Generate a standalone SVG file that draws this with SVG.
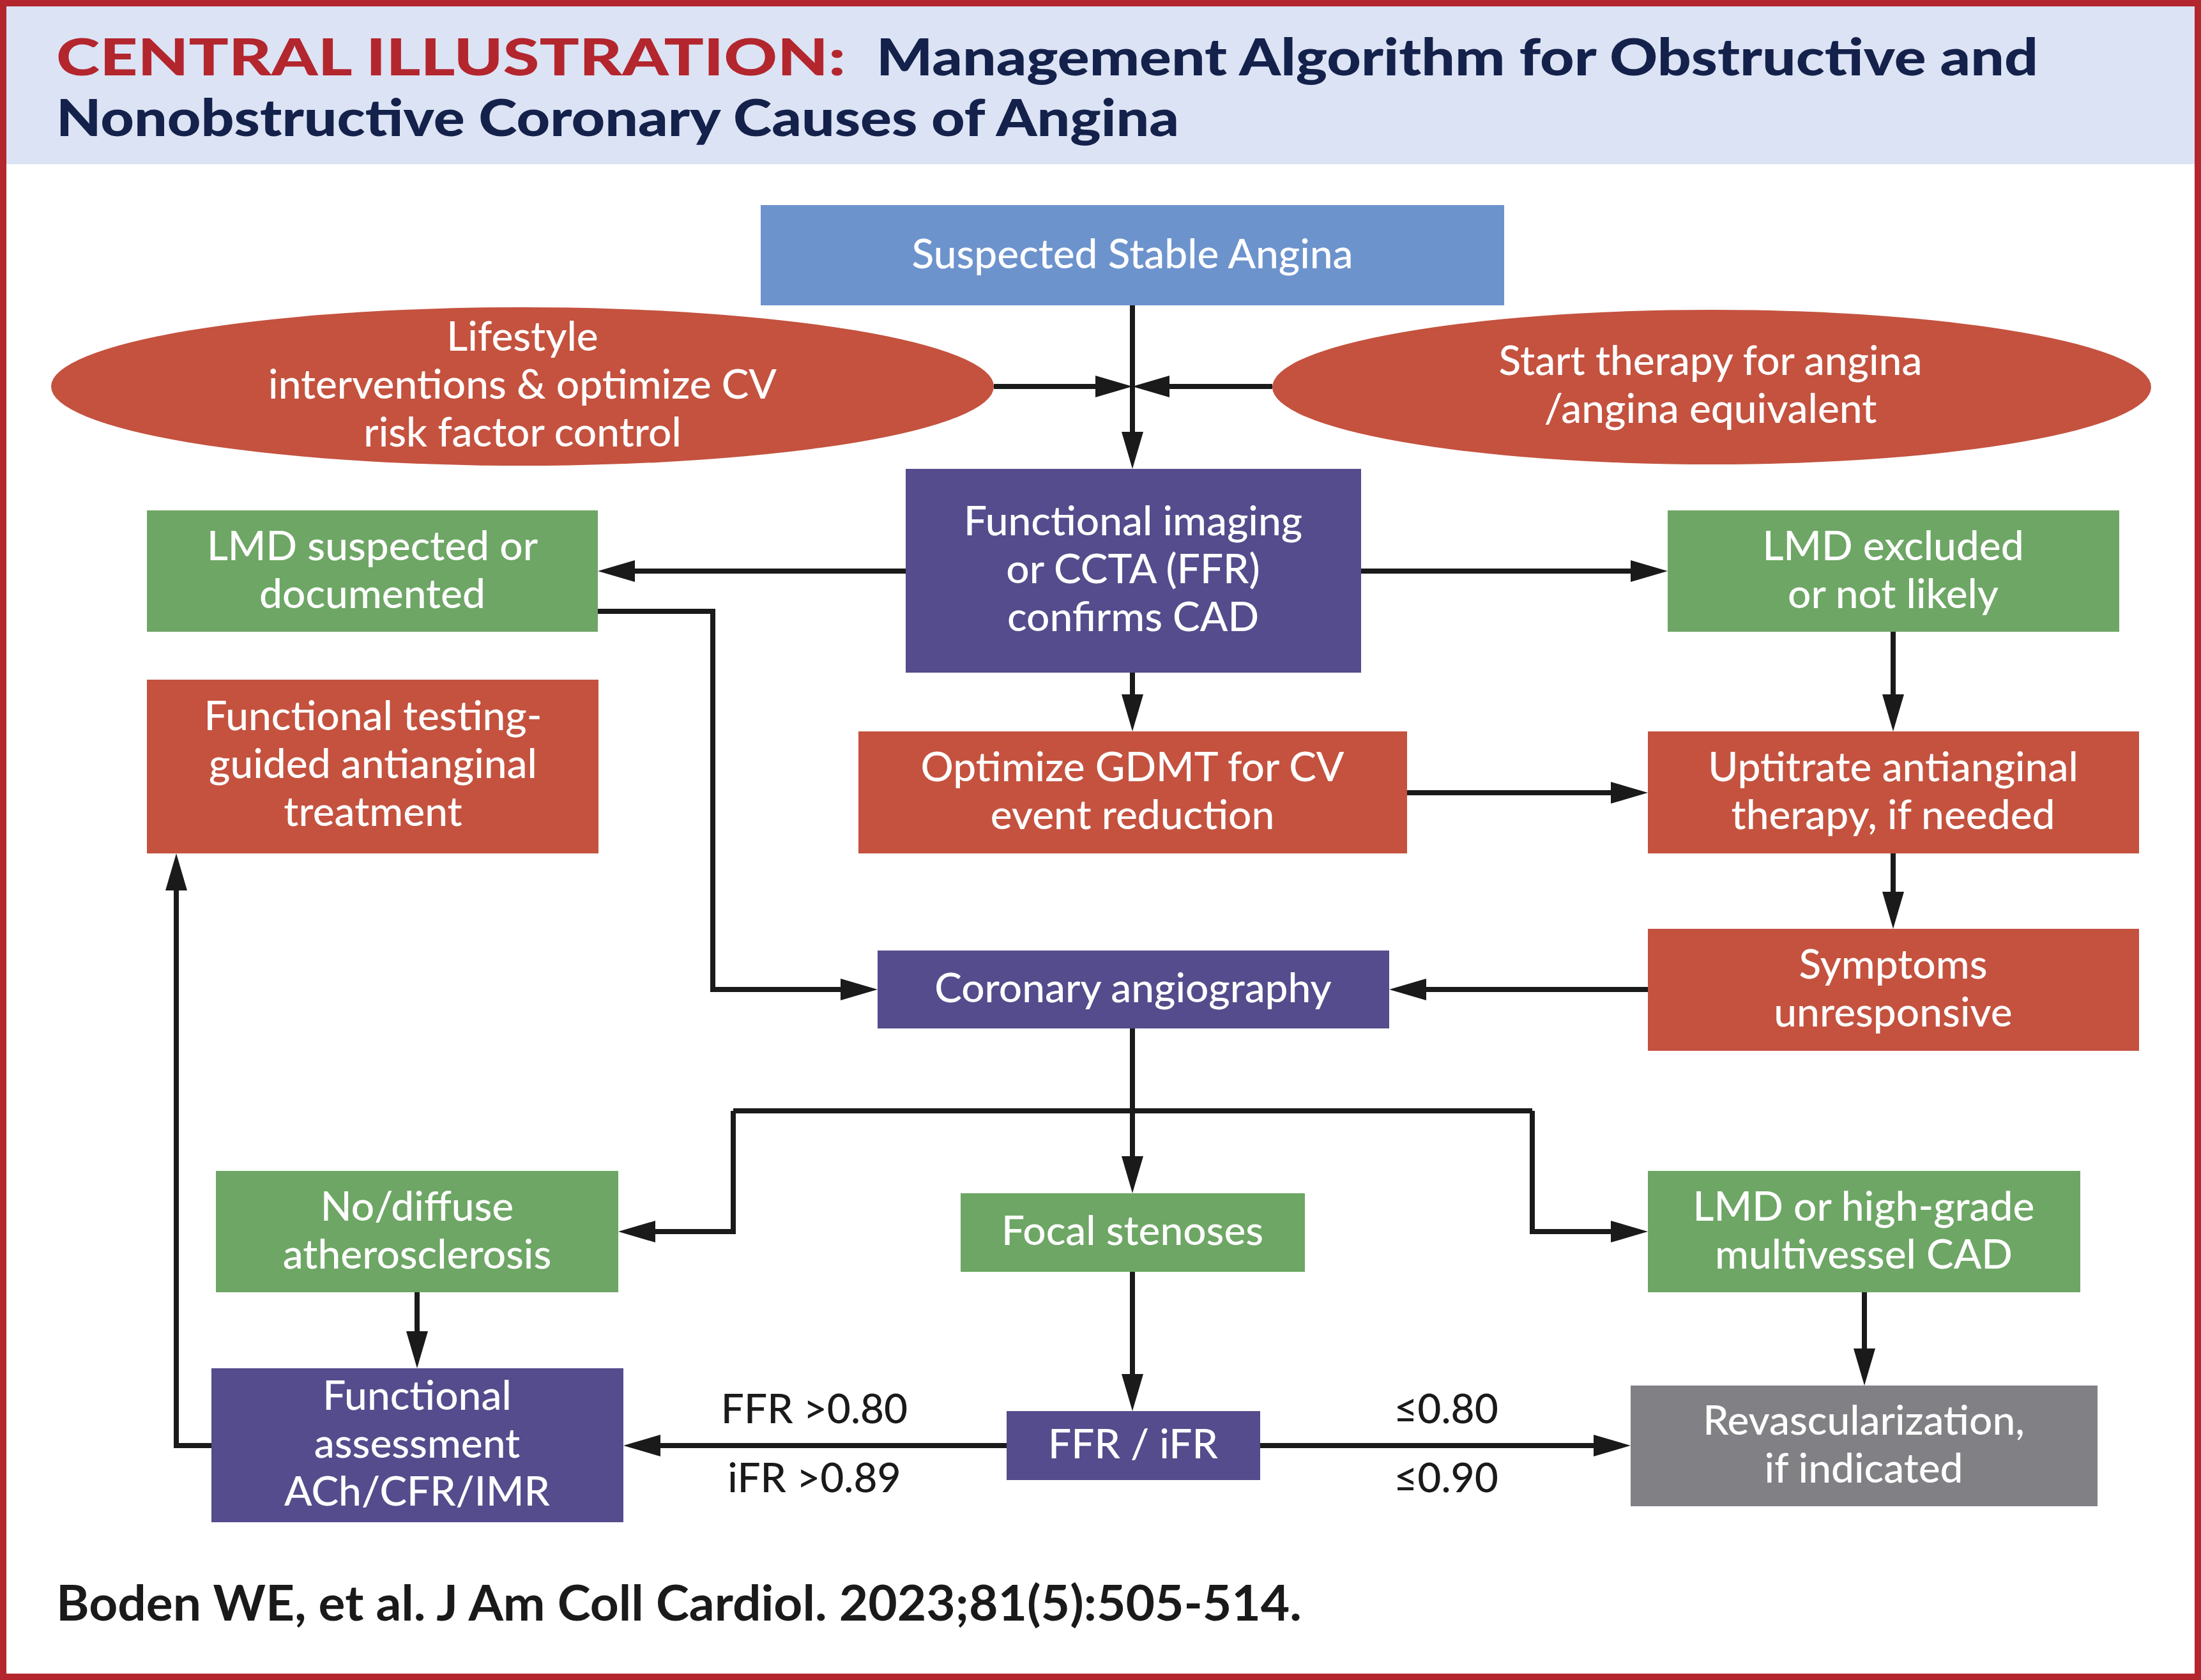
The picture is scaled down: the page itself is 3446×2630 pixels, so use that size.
<svg xmlns="http://www.w3.org/2000/svg" width="3446" height="2630" viewBox="0 0 3446 2630">
<defs>
<style>
.bx{stroke:none}
.blue{fill:#6d93cd}
.red{fill:#c4523f}
.pur{fill:#544c8c}
.grn{fill:#6ea665}
.gry{fill:#818185}
.t{font-family:Lato,"Liberation Sans",sans-serif;font-size:64px;font-weight:500;fill:#ffffff;text-anchor:middle}
.lb{font-family:Lato,"Liberation Sans",sans-serif;font-size:64px;font-weight:500;fill:#1a1a1a;text-anchor:middle}
.ln{fill:none;stroke:#1a1a1a;stroke-width:8;stroke-linejoin:miter}
.ar{marker-end:url(#ah)}
.ttl{font-family:Lato,"Liberation Sans",sans-serif;font-weight:900;font-size:80px}
</style>
<marker id="ah" markerUnits="userSpaceOnUse" markerWidth="58" markerHeight="34" refX="38" refY="17" orient="auto" viewBox="0 0 58 34">
<path d="M0,0 L58,17 L0,34 Z" fill="#1a1a1a"/>
</marker>
</defs>
<rect x="0" y="0" width="3446" height="2630" fill="#ffffff"/>
<rect x="0" y="0" width="3446" height="257" fill="#dce3f4"/>
<rect x="5" y="5" width="3436" height="2620" fill="none" stroke="#b3262e" stroke-width="10"/>
<g id="title">
<text class="ttl" x="88" y="118" fill="#b3262e" textLength="1236" lengthAdjust="spacingAndGlyphs">CENTRAL ILLUSTRATION:</text>
<text class="ttl" x="1372" y="118" fill="#14214b" textLength="1819" lengthAdjust="spacingAndGlyphs">Management Algorithm for Obstructive and</text>
<text class="ttl" x="88" y="213" fill="#14214b" textLength="1758" lengthAdjust="spacingAndGlyphs">Nonobstructive Coronary Causes of Angina</text>
</g>

<g id="connectors">
<path class="ln ar" d="M1773,478 V714"/>
<path class="ln ar" d="M1556,605 H1753"/>
<path class="ln ar" d="M1992,605 H1793"/>
<path class="ln ar" d="M1418,894 H956"/>
<path class="ln ar" d="M2131,894 H2591"/>
<path class="ln ar" d="M1773,1053 V1125"/>
<path class="ln ar" d="M2203,1241 H2560"/>
<path class="ln ar" d="M2964,989 V1125"/>
<path class="ln ar" d="M2964,1336 V1434"/>
<path class="ln ar" d="M2580,1549 H2195"/>
<path class="ln ar" d="M936,957 H1116 V1549 H1354"/>
<path class="ln" d="M1773,1610 V1739"/>
<path class="ln" d="M1148,1739 H2399"/>
<path class="ln ar" d="M1773,1739 V1848"/>
<path class="ln ar" d="M1148,1739 V1928 H988"/>
<path class="ln ar" d="M2399,1739 V1928 H2560"/>
<path class="ln ar" d="M653,2023 V2122"/>
<path class="ln ar" d="M1773,1991 V2189"/>
<path class="ln ar" d="M1576,2263 H996"/>
<path class="ln ar" d="M1973,2263 H2533"/>
<path class="ln ar" d="M2919,2023 V2149"/>
<path class="ln ar" d="M331,2263 H276 V1356"/>
</g>

<g id="n-suspected">
<rect class="bx blue" x="1191" y="321" width="1164" height="157"/>
<text class="t" x="1773" y="420">Suspected Stable Angina</text>
</g>
<g id="n-lifestyle">
<ellipse class="red" cx="818" cy="605" rx="738" ry="124"/>
<text class="t" x="818" y="549">Lifestyle</text>
<text class="t" x="818" y="624">interventions &amp; optimize CV</text>
<text class="t" x="818" y="699">risk factor control</text>
</g>
<g id="n-starttherapy">
<ellipse class="red" cx="2680" cy="606" rx="688" ry="121"/>
<text class="t" x="2678" y="587">Start therapy for angina</text>
<text class="t" x="2678" y="662">/angina equivalent</text>
</g>
<g id="n-functional-imaging">
<rect class="bx pur" x="1418" y="734" width="713" height="319"/>
<text class="t" x="1774" y="838">Functional imaging</text>
<text class="t" x="1774" y="913">or CCTA (FFR)</text>
<text class="t" x="1774" y="988">confirms CAD</text>
</g>
<g id="n-lmd-suspected">
<rect class="bx grn" x="230" y="799" width="706" height="190"/>
<text class="t" x="583" y="877">LMD suspected or</text>
<text class="t" x="583" y="952">documented</text>
</g>
<g id="n-lmd-excluded">
<rect class="bx grn" x="2611" y="799" width="707" height="190"/>
<text class="t" x="2964" y="877">LMD excluded</text>
<text class="t" x="2964" y="952">or not likely</text>
</g>
<g id="n-functional-testing">
<rect class="bx red" x="230" y="1064" width="707" height="272"/>
<text class="t" x="584" y="1143">Functional testing-</text>
<text class="t" x="584" y="1218">guided antianginal</text>
<text class="t" x="584" y="1293">treatment</text>
</g>
<g id="n-gdmt">
<rect class="bx red" x="1344" y="1145" width="859" height="191"/>
<text class="t" x="1773" y="1223">Optimize GDMT for CV</text>
<text class="t" x="1773" y="1298">event reduction</text>
</g>
<g id="n-uptitrate">
<rect class="bx red" x="2580" y="1145" width="769" height="191"/>
<text class="t" x="2964" y="1223">Uptitrate antianginal</text>
<text class="t" x="2964" y="1298">therapy, if needed</text>
</g>
<g id="n-coronary">
<rect class="bx pur" x="1374" y="1488" width="801" height="122"/>
<text class="t" x="1774" y="1569">Coronary angiography</text>
</g>
<g id="n-symptoms">
<rect class="bx red" x="2580" y="1454" width="769" height="191"/>
<text class="t" x="2964" y="1532">Symptoms</text>
<text class="t" x="2964" y="1607">unresponsive</text>
</g>
<g id="n-nodiffuse">
<rect class="bx grn" x="338" y="1833" width="630" height="190"/>
<text class="t" x="653" y="1911">No/diffuse</text>
<text class="t" x="653" y="1986">atherosclerosis</text>
</g>
<g id="n-focal">
<rect class="bx grn" x="1504" y="1868" width="539" height="123"/>
<text class="t" x="1773" y="1949">Focal stenoses</text>
</g>
<g id="n-lmd-highgrade">
<rect class="bx grn" x="2580" y="1833" width="677" height="190"/>
<text class="t" x="2918" y="1911">LMD or high-grade</text>
<text class="t" x="2918" y="1986">multivessel CAD</text>
</g>
<g id="n-functional-assessment">
<rect class="bx pur" x="331" y="2142" width="645" height="241"/>
<text class="t" x="653" y="2207">Functional</text>
<text class="t" x="653" y="2282">assessment</text>
<text class="t" x="653" y="2357">ACh/CFR/IMR</text>
</g>
<g id="n-ffr">
<rect class="bx pur" x="1576" y="2209" width="397" height="108"/>
<text class="t" x="1774" y="2283">FFR / iFR</text>
</g>
<g id="n-revasc">
<rect class="bx gry" x="2553" y="2169" width="731" height="189"/>
<text class="t" x="2918" y="2246">Revascularization,</text>
<text class="t" x="2918" y="2321">if indicated</text>
</g>
<g id="labels">
<text class="lb" x="1275" y="2228">FFR &gt;0.80</text>
<text class="lb" x="1275" y="2336">iFR &gt;0.89</text>
<text class="lb" x="2264" y="2228">≤0.80</text>
<text class="lb" x="2264" y="2336">≤0.90</text>
</g>
<text x="88" y="2537" font-family="Lato,'Liberation Sans',sans-serif" font-weight="700" font-size="76" fill="#1a1a1a" textLength="1950" lengthAdjust="spacingAndGlyphs">Boden WE, et al. J Am Coll Cardiol. 2023;81(5):505-514.</text>
</svg>
